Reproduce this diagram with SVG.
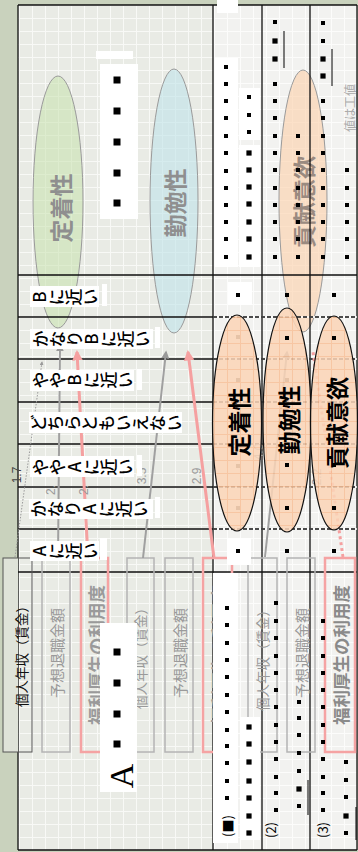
<svg xmlns="http://www.w3.org/2000/svg" xmlns:xlink="http://www.w3.org/1999/xlink" width="358" height="852" viewBox="0 0 358 852">
<style>
.j{font-family:"Noto Sans CJK JP","Noto Sans",sans-serif}
.lb{font-family:"Noto Sans CJK JP","Noto Sans",sans-serif;font-size:17px;font-weight:500;fill:#000;writing-mode:vertical-rl;text-orientation:upright}
.et{font-family:"Noto Sans CJK JP",sans-serif;font-weight:700;font-size:23px;text-anchor:middle;dominant-baseline:central}
.bt{font-family:"Noto Sans CJK JP",sans-serif;text-anchor:middle;dominant-baseline:central}
.num{font-family:"Liberation Sans",sans-serif;font-size:12px;fill:#9a9a9a;text-anchor:middle;dominant-baseline:central}
.ln{stroke:#111;stroke-width:1.3;fill:none}
.dl{stroke:#111;stroke-width:1.6;stroke-dasharray:4 2;fill:none}
.gb{fill:none;stroke:#b4b4b4;stroke-width:1.5}
.pb{fill:none;stroke:#f5a3a3;stroke-width:2.5}
.w{fill:#fff}
</style>
<defs>
<pattern id="g" x="19" y="5" width="13" height="13" patternUnits="userSpaceOnUse"><rect width="13" height="13" fill="#e9ebe5"/><path d="M0 .5H13M.5 0V13" stroke="#f8f9f6" stroke-width="1"/></pattern>
<pattern id="g2" x="19" y="5" width="13" height="13" patternUnits="userSpaceOnUse"><rect width="13" height="13" fill="#f2f2f0"/><path d="M0 .5H13M.5 0V13" stroke="#fcfcfb" stroke-width="1"/></pattern>
<pattern id="og" x="19" y="5" width="13" height="13" patternUnits="userSpaceOnUse"><rect width="13" height="13" fill="#fbd5b7"/><path d="M0 .5H13M.5 0V13" stroke="#f6bd94" stroke-width="1"/></pattern>
<rect id="s" x="-2" y="-2" width="4" height="4" fill="#000"/>
<rect id="b" x="-2.6" y="-2.6" width="5.2" height="5.2" fill="#000"/>
<rect id="q" x="-3.5" y="-3.5" width="7" height="7" fill="#000"/>
<rect id="f" x="-2" y="-2" width="4" height="4" fill="#6b5a4e"/>
<marker id="ag" viewBox="0 0 10 10" refX="8" refY="5" markerWidth="4" markerHeight="4" orient="auto"><path d="M0 0L10 5L0 10z" fill="#9a9a9a"/></marker>
<marker id="ap" viewBox="0 0 10 10" refX="8" refY="5" markerWidth="3.5" markerHeight="3.5" orient="auto"><path d="M0 0L10 5L0 10z" fill="#f5a0a0"/></marker>
</defs>

<rect width="358" height="852" fill="#c9d2bd"/>
<rect x="18" y="5" width="339" height="845" fill="url(#g)"/>
<rect x="213" y="5" width="144" height="845" fill="url(#g2)"/>

<!-- faded background ellipses -->
<g id="bg-teichaku">
<ellipse cx="58" cy="202" rx="25" ry="126" fill="#c7e2ad" fill-opacity="0.55" stroke="#9a9a9a" stroke-width="1"/>
<text class="et" transform="translate(60,208) rotate(-90)" fill="#8f8f8f">定着性</text>
</g>
<g id="bg-kinben">
<ellipse cx="174" cy="201" rx="24" ry="132" fill="#bfe2ea" fill-opacity="0.6" stroke="#9a9a9a" stroke-width="1"/>
<text class="et" transform="translate(174,203) rotate(-90)" fill="#8f8f8f">勤勉性</text>
</g>
<g id="bg-kouken">
<ellipse cx="303" cy="201" rx="24" ry="131" fill="#fbcfa8" fill-opacity="0.6" stroke="#9a9a9a" stroke-width="1"/>
<text class="et" transform="translate(303,202) rotate(-90)" fill="#9a8a80">貢献意欲</text>
</g>
<text class="bt" transform="translate(349,108) rotate(-90)" font-size="12" fill="#aaa">値は工値</text>

<!-- top white box with squares -->
<g id="topbox">
<rect class="w" x="96" y="51" width="37" height="8"/>
<rect class="w" x="100" y="64" width="38" height="155"/>
<use href="#q" x="117" y="80"/><use href="#q" x="117" y="111"/><use href="#q" x="117" y="142"/><use href="#q" x="117" y="173"/><use href="#q" x="117" y="203"/>
</g>

<!-- grid lines of table -->
<g id="table">
<path class="ln" d="M18 5H357M18 5V850M18 850H357M357 5V850M213 5V850M262 5V850M310 5V850M18 275H357M18 572H357" stroke-width="1.5"/>
<path class="ln" d="M18 317H213M18 359H213M18 402H213M18 444H213M18 487H213M18 529H213"/>
<path d="M213 317H357M213 359H357M213 402H357M213 444H357M213 487H357M213 529H357" stroke="#fff" stroke-width="1.6"/>
<path class="dl" d="M213 317H357M213 359H357M213 402H357M213 444H357M213 487H357M213 529H357"/>
</g>

<!-- bottom boxes -->
<g id="box1"><rect x="3" y="558" width="15" height="194" fill="#dfe3d9"/><rect x="3" y="558" width="29" height="194" fill="none" stroke="#555" stroke-width="1"/><text class="bt" transform="translate(21,653) rotate(-90)" font-size="13.5" fill="#111">個人年収（賃金）</text></g>
<g id="box2"><rect class="gb" x="42" y="558" width="28" height="194"/><text class="bt" transform="translate(56,653) rotate(-90)" font-size="15" fill="#9a9a9a">予想退職金額</text></g>
<g id="box3"><rect class="pb" x="81" y="558" width="27" height="194"/><text class="bt" transform="translate(95,655) rotate(-90)" font-size="17.5" font-weight="700" fill="#9a9a9a">福利厚生の利用度</text></g>
<g id="box4"><rect class="gb" x="127" y="558" width="27" height="194"/><text class="bt" transform="translate(140,655) rotate(-90)" font-size="13.5" fill="#9a9a9a">個人年収（賃金）</text></g>
<g id="box5"><rect class="gb" x="165" y="558" width="28" height="194"/><text class="bt" transform="translate(179,653) rotate(-90)" font-size="15" fill="#9a9a9a">予想退職金額</text></g>
<g id="box6"><rect class="pb" x="203" y="558" width="29" height="194"/><text class="bt" transform="translate(218,655) rotate(-90)" font-size="17.5" font-weight="700" fill="#9a9a9a">福利厚生の利用度</text></g>
<g id="box7"><rect class="gb" x="248" y="558" width="29" height="194"/><text class="bt" transform="translate(262,657) rotate(-90)" font-size="13.5" fill="#9a9a9a">個人年収（賃金）</text></g>
<g id="box8"><rect class="gb" x="287" y="558" width="28" height="194"/><text class="bt" transform="translate(301,653) rotate(-90)" font-size="15" fill="#9a9a9a">予想退職金額</text></g>
<g id="box9"><rect class="pb" x="325" y="558" width="30" height="194"/><text class="bt" transform="translate(340,655) rotate(-90)" font-size="17.5" font-weight="700" fill="#8a8a8a">福利厚生の利用度</text></g>

<!-- connectors -->
<g id="connectors">
<path d="M15 557L42 362" stroke="#9a9a9a" stroke-width="1" stroke-dasharray="1.5 1.5" fill="none" marker-end="url(#ag)"/>
<path d="M58 558L60 345" stroke="#a0a0a0" stroke-width="2" fill="none" marker-end="url(#ag)"/>
<path d="M88 558L77 352" stroke="#f5a0a0" stroke-width="3" fill="none" marker-end="url(#ap)"/>
<path d="M143 558L166 352" stroke="#a0a0a0" stroke-width="2" fill="none" marker-end="url(#ag)"/>
<path d="M214 558L188 352" stroke="#f5a0a0" stroke-width="3" fill="none" marker-end="url(#ap)"/>
<path d="M265 557L287 352" stroke="#a0a0a0" stroke-width="2" fill="none" marker-end="url(#ag)"/>
<path d="M343 557L313 352" stroke="#f5a0a0" stroke-width="3" stroke-dasharray="3 3" fill="none"/>
<text class="num" transform="translate(17,475) rotate(-90)" style="fill:#444">1.7</text>
<text class="num" transform="translate(51,490) rotate(-90)">2.</text>
<text class="num" transform="translate(84,490) rotate(-90)">2.</text>
<text class="num" transform="translate(142,476) rotate(-90)">3.5</text>
<text class="num" transform="translate(197,476) rotate(-90)">2.9</text>
<text class="num" transform="translate(259,452) rotate(-90)">4.0</text>
<text class="num" transform="translate(317,477) rotate(-90)">2.2</text>
</g>

<!-- scale labels -->
<g id="scale">
<rect class="w" x="30" y="286" width="69" height="21"/><rect class="w" x="102" y="284" width="5" height="22"/>
<text class="lb" transform="translate(31,297) rotate(-90)">Bに近い</text>
<rect class="w" x="30" y="329" width="123" height="20"/><rect class="w" x="155" y="327" width="5" height="21"/>
<text class="lb" transform="translate(32,339) rotate(-90)">かなりBに近い</text>
<rect class="w" x="30" y="370" width="104" height="21"/><rect class="w" x="137" y="369" width="5" height="21"/>
<text class="lb" transform="translate(32,380) rotate(-90)">ややBに近い</text>
<rect class="w" x="29" y="412" width="153" height="21"/>
<text class="lb" transform="translate(30,423) rotate(-90)">どちらともいえない</text>
<rect class="w" x="30" y="456" width="104" height="21"/><rect class="w" x="137" y="455" width="5" height="21"/>
<text class="lb" transform="translate(32,467) rotate(-90)">ややAに近い</text>
<rect class="w" x="29" y="499" width="124" height="20"/><rect class="w" x="155" y="497" width="5" height="21"/>
<text class="lb" transform="translate(30,509) rotate(-90)">かなりAに近い</text>
<rect class="w" x="30" y="541" width="69" height="20"/><rect class="w" x="100" y="538" width="7" height="22"/>
<text class="lb" transform="translate(31,551) rotate(-90)">Aに近い</text>
</g>

<!-- faded dots under ellipse 1 -->
<use href="#f" x="238" y="337"/><use href="#f" x="238" y="380"/><use href="#f" x="238" y="466"/><use href="#f" x="238" y="508"/><use href="#f" x="287" y="380"/>

<!-- main ellipses -->
<g id="e-teichaku">
<ellipse cx="237" cy="423" rx="24.5" ry="108" fill="url(#og)" fill-opacity="0.85" stroke="#111" stroke-width="1.2"/>
<text class="et" transform="translate(238,422) rotate(-90)" fill="#000">定着性</text>
</g>
<g id="e-kinben">
<ellipse cx="287" cy="420" rx="24" ry="112" fill="url(#og)" fill-opacity="0.85" stroke="#111" stroke-width="1.2"/>
<text class="et" transform="translate(288,420) rotate(-90)" fill="#000">勤勉性</text>
</g>
<g id="e-kouken">
<ellipse cx="334" cy="423" rx="23.5" ry="107" fill="url(#og)" fill-opacity="0.85" stroke="#111" stroke-width="1.2"/>
<text class="et" transform="translate(336,423) rotate(-90)" fill="#000">貢献意欲</text>
</g>

<!-- middle dots -->
<rect class="w" x="228" y="282" width="24" height="23"/><rect class="w" x="227" y="538" width="24" height="27"/>
<use href="#s" x="238" y="295"/><use href="#s" x="287" y="295"/><use href="#s" x="334" y="295"/>
<use href="#s" x="287" y="338"/><use href="#s" x="334" y="338"/>
<use href="#s" x="287" y="465"/><use href="#s" x="334" y="465"/>
<use href="#s" x="287" y="508"/><use href="#s" x="334" y="508"/>
<use href="#s" x="238" y="551"/><use href="#s" x="287" y="551"/><use href="#s" x="334" y="551"/>

<!-- top-right dot columns -->
<g id="topdots">
<rect class="w" x="217" y="0" width="21" height="13"/>
<rect class="w" x="215" y="58" width="23" height="209"/>
<rect class="w" x="239" y="88" width="21" height="52"/><rect class="w" x="239" y="145" width="21" height="122"/>
<use href="#s" x="226" y="67"/><use href="#s" x="226" y="84"/><use href="#s" x="226" y="101"/><use href="#s" x="226" y="118"/><use href="#s" x="226" y="136"/><use href="#s" x="226" y="153"/><use href="#s" x="226" y="171"/><use href="#s" x="226" y="188"/><use href="#s" x="226" y="205"/><use href="#s" x="226" y="222"/><use href="#s" x="226" y="239"/><use href="#s" x="226" y="257"/>
<use href="#s" x="249" y="97"/><use href="#s" x="249" y="115"/><use href="#s" x="249" y="132"/><use href="#b" x="249" y="153"/><use href="#b" x="249" y="170"/><use href="#b" x="249" y="187"/><use href="#b" x="249" y="204"/><use href="#b" x="249" y="222"/><use href="#b" x="249" y="239"/><use href="#b" x="249" y="257"/>
<use href="#s" x="275" y="22"/><use href="#b" x="275" y="41"/><use href="#b" x="275" y="59"/><use href="#s" x="275" y="84"/><use href="#s" x="275" y="101"/><use href="#s" x="275" y="118"/><use href="#s" x="275" y="136"/><use href="#s" x="275" y="153"/><use href="#s" x="275" y="170"/><use href="#s" x="275" y="188"/><use href="#s" x="275" y="205"/><use href="#s" x="275" y="222"/><use href="#s" x="275" y="239"/><use href="#s" x="275" y="257"/>
<use href="#s" x="298" y="136"/><use href="#s" x="298" y="153"/><use href="#s" x="298" y="170"/><use href="#s" x="298" y="188"/><use href="#s" x="298" y="205"/><use href="#s" x="298" y="222"/><use href="#s" x="298" y="239"/><use href="#s" x="298" y="257"/>
<use href="#s" x="323" y="23"/><use href="#s" x="323" y="41"/><use href="#b" x="323" y="59"/><use href="#b" x="323" y="76"/><use href="#s" x="323" y="101"/><use href="#s" x="323" y="118"/><use href="#s" x="323" y="136"/><use href="#s" x="323" y="153"/><use href="#s" x="323" y="170"/><use href="#s" x="323" y="188"/><use href="#s" x="323" y="205"/><use href="#s" x="323" y="222"/><use href="#s" x="323" y="239"/><use href="#s" x="323" y="257"/>
<use href="#s" x="347" y="170"/><use href="#s" x="347" y="188"/><use href="#s" x="347" y="205"/><use href="#s" x="347" y="222"/><use href="#s" x="347" y="239"/><use href="#s" x="347" y="257"/>
<path d="M284 31V68M332 49V86" stroke="#000" stroke-width="1"/>
</g>

<!-- bottom white box with squares and A -->
<g id="bottombox">
<rect class="w" x="100" y="623" width="37" height="169"/>
<use href="#q" x="117" y="652"/><use href="#q" x="117" y="683"/><use href="#q" x="117" y="714"/><use href="#q" x="117" y="744"/>
<text transform="translate(121,776) rotate(-90)" font-family="Liberation Serif,serif" font-size="34" text-anchor="middle" dominant-baseline="central" fill="#000">A</text>
</g>

<!-- bottom-right dot columns -->
<g id="bottomdots">
<rect class="w" x="213" y="573" width="25" height="270"/>
<rect class="w" x="240" y="717" width="20" height="123"/>
<use href="#s" x="227" y="608"/><use href="#s" x="227" y="625"/><use href="#s" x="227" y="643"/><use href="#s" x="227" y="660"/><use href="#s" x="227" y="677"/><use href="#s" x="227" y="695"/><use href="#s" x="227" y="712"/><use href="#s" x="227" y="730"/><use href="#s" x="227" y="746"/><use href="#s" x="227" y="763"/><use href="#s" x="227" y="781"/><use href="#s" x="227" y="798"/>
<text class="bt" transform="translate(227,826) rotate(-90)" font-size="13" fill="#000">(■)</text>
<use href="#b" x="249" y="727"/><use href="#b" x="249" y="744"/><use href="#b" x="249" y="762"/><use href="#b" x="249" y="781"/><use href="#b" x="249" y="798"/><use href="#b" x="249" y="816"/><use href="#b" x="249" y="833"/>
<use href="#s" x="276" y="603"/><use href="#s" x="276" y="621"/><use href="#s" x="276" y="638"/><use href="#s" x="276" y="656"/><use href="#s" x="276" y="673"/><use href="#s" x="276" y="690"/><use href="#s" x="276" y="707"/><use href="#s" x="276" y="725"/><use href="#s" x="276" y="742"/><use href="#s" x="276" y="759"/><use href="#s" x="276" y="777"/><use href="#s" x="276" y="793"/><use href="#s" x="276" y="810"/>
<text class="bt" transform="translate(270,830) rotate(-90)" font-size="13" fill="#000">(2)</text>
<use href="#s" x="299" y="702"/><use href="#s" x="299" y="718"/><use href="#s" x="299" y="735"/><use href="#s" x="299" y="753"/><use href="#s" x="299" y="771"/><use href="#b" x="299" y="789"/><use href="#s" x="299" y="806"/>
<use href="#s" x="323" y="621"/><use href="#s" x="323" y="638"/><use href="#s" x="323" y="656"/><use href="#s" x="323" y="673"/><use href="#s" x="323" y="690"/><use href="#s" x="323" y="707"/><use href="#s" x="323" y="725"/><use href="#s" x="323" y="742"/><use href="#s" x="323" y="759"/><use href="#s" x="323" y="777"/><use href="#s" x="323" y="793"/><use href="#s" x="323" y="810"/>
<text class="bt" transform="translate(322,830) rotate(-90)" font-size="13" fill="#000">(3)</text>
<use href="#s" x="346" y="762"/><use href="#s" x="346" y="780"/><use href="#s" x="346" y="797"/><use href="#b" x="346" y="816"/><use href="#s" x="346" y="833"/>
<path d="M308 780V815M356 807V840" stroke="#000" stroke-width="1"/>
</g>
</svg>
